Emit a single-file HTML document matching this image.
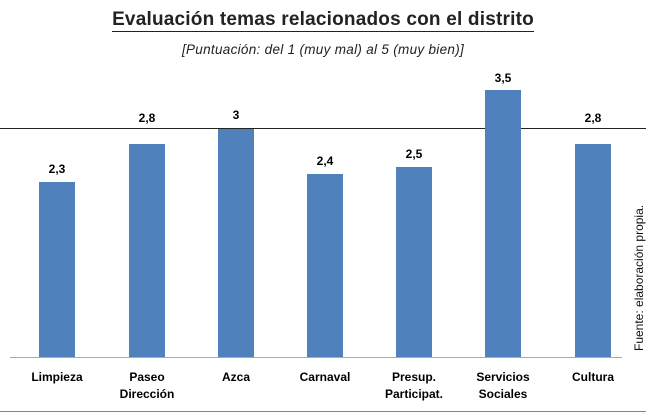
<!DOCTYPE html>
<html><head><meta charset="utf-8"><style>
body{margin:0;width:646px;height:413px;background:#fff;position:relative;overflow:hidden;font-family:"Liberation Sans",sans-serif;}
.t{position:absolute;left:0;width:646px;text-align:center;}
.bar{position:absolute;width:36px;background:#4f81bd;}
.v{position:absolute;width:60px;text-align:center;font-weight:bold;font-size:12px;color:#000;}
.l{position:absolute;width:90px;text-align:center;font-weight:bold;font-size:12px;line-height:17px;color:#000;}
</style></head><body>
<div class="t" style="top:9px;font-size:19px;font-weight:bold;color:#222;"><span style="border-bottom:1px solid #222;padding-bottom:1px;letter-spacing:0.2px">Evaluación temas relacionados con el distrito</span></div>
<div class="t" style="top:42px;font-size:13.5px;font-style:italic;color:#222;letter-spacing:0.3px">[Puntuación: del 1 (muy mal) al 5 (muy bien)]</div>
<div style="position:absolute;left:0;top:128px;width:646px;height:1px;background:#222"></div>
<div style="position:absolute;left:10px;top:357px;width:612px;height:1px;background:#aaa"></div>
<div style="position:absolute;left:0;top:411px;width:646px;height:1px;background:#888"></div>

<div class="bar" style="left:39px;top:182px;height:175px"></div>
<div class="bar" style="left:129px;top:144px;height:213px"></div>
<div class="bar" style="left:218px;top:129px;height:228px"></div>
<div class="bar" style="left:307px;top:174px;height:183px"></div>
<div class="bar" style="left:396px;top:167px;height:190px"></div>
<div class="bar" style="left:485px;top:90px;height:267px"></div>
<div class="bar" style="left:575px;top:144px;height:213px"></div>

<div class="v" style="left:27px;top:162px">2,3</div>
<div class="v" style="left:117px;top:111px">2,8</div>
<div class="v" style="left:206px;top:108px">3</div>
<div class="v" style="left:295px;top:154px">2,4</div>
<div class="v" style="left:384px;top:147px">2,5</div>
<div class="v" style="left:473px;top:71px">3,5</div>
<div class="v" style="left:563px;top:111px">2,8</div>

<div class="l" style="left:12px;top:369px">Limpieza</div>
<div class="l" style="left:102px;top:369px">Paseo<br>Dirección</div>
<div class="l" style="left:191px;top:369px">Azca</div>
<div class="l" style="left:280px;top:369px">Carnaval</div>
<div class="l" style="left:369px;top:369px">Presup.<br>Participat.</div>
<div class="l" style="left:458px;top:369px">Servicios<br>Sociales</div>
<div class="l" style="left:548px;top:369px">Cultura</div>

<div style="position:absolute;left:632px;top:351px;transform-origin:0 0;transform:rotate(-90deg);font-size:12px;white-space:nowrap;color:#111">Fuente: elaboración propia.</div>
</body></html>
